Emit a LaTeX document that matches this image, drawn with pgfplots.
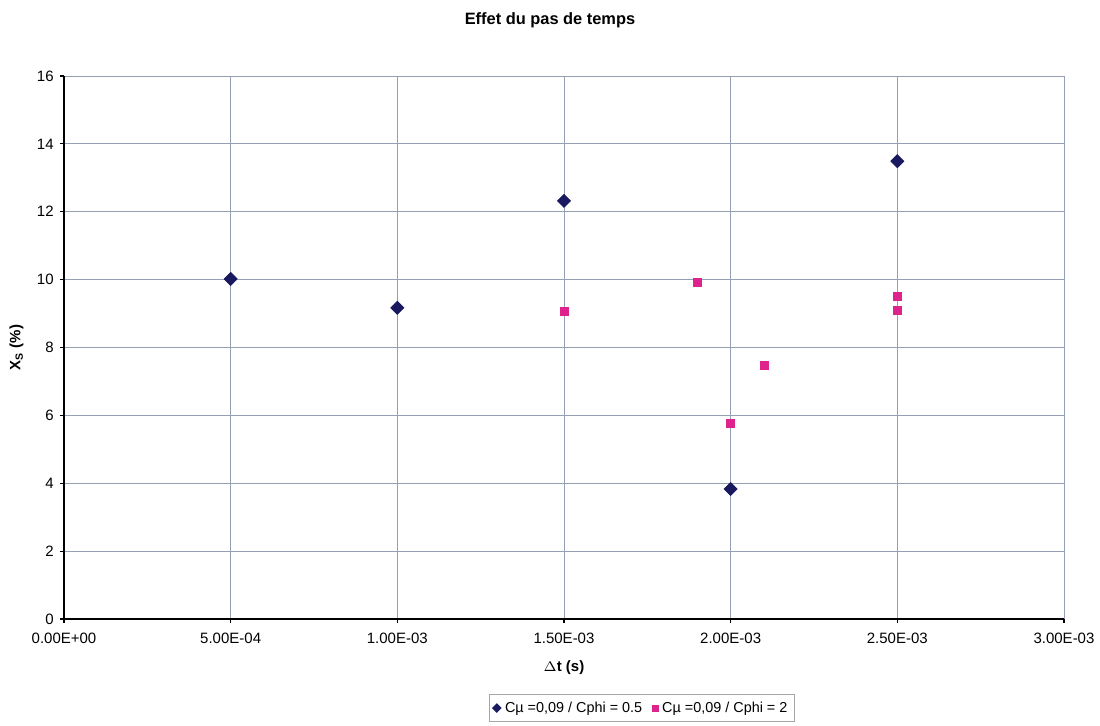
\documentclass[border=0pt]{standalone}
\usepackage{pgfplots}
\pgfplotsset{compat=1.18}
\usepackage{fontspec}
\setmainfont{Liberation Sans}
\definecolor{navyd}{RGB}{25,25,95}
\definecolor{pinkm}{RGB}{222,36,140}
\definecolor{gridc}{RGB}{150,160,180}
\begin{document}
\fontsize{7.5}{9}\selectfont
\begin{tikzpicture}
\useasboundingbox (-32pt,-53.5pt) rectangle (518pt,309.5pt);
\begin{axis}[
  at={(0,0)}, anchor=south west,
  scale only axis, width=500pt, height=271.5pt,
  xmin=0, xmax=0.003, ymin=0, ymax=16,
  axis x line*=bottom, axis y line*=left,
  axis line style={line width=1.4pt, -},
  xtick={0,0.0005,0.001,0.0015,0.002,0.0025,0.003},
  xticklabels={0.00E+00,5.00E-04,1.00E-03,1.50E-03,2.00E-03,2.50E-03,3.00E-03},
  ytick={0,2,...,16},
  scaled x ticks=false,
  /pgf/number format/assume math mode=true,
  tick align=outside, major tick length=2pt,
  tick style={black, line width=0.6pt},
  grid=major, major grid style={gridc, line width=0.4pt},
  ticklabel style={font=\fontsize{7.5}{9}\selectfont},
  xticklabel style={yshift=-2.5pt},
  yticklabel style={xshift=-0.5pt},
  xlabel={\bfseries $\Delta$t (s)},
  ylabel={\bfseries X\textsubscript{S} (\%)},
  xlabel style={font=\fontsize{7.5}{9}\selectfont, yshift=-3pt},
  ylabel style={font=\fontsize{7.5}{9}\selectfont, yshift=1.5pt},
  clip=false,
  legend style={at={(0.578,-0.164)}, anchor=center, legend columns=2,
    draw=gray!70, font=\fontsize{7.2}{8.5}\selectfont, inner sep=1.5pt,
    /tikz/every even column/.append style={column sep=3pt}},
  legend image post style={mark size=1.5pt},
  legend cell align=left,
]
\addplot[only marks, mark=square*, mark options={rotate=45}, mark size=2.3pt, color=navyd] coordinates {
  (0.0005,10.02) (0.001,9.17) (0.0015,12.32) (0.002,3.83) (0.0025,13.49)
};
\addlegendentry{C\textmu\ =0,09 / Cphi = 0.5}
\addplot[only marks, mark=square*, mark size=2pt, color=pinkm] coordinates {
  (0.0015,9.07) (0.0019,9.93) (0.002,5.77) (0.0021,7.48) (0.0025,9.52) (0.0025,9.10)
};
\addlegendentry{C\textmu\ =0,09 / Cphi = 2}
\node[font=\bfseries\fontsize{8.2}{9}\selectfont] at (rel axis cs:0.486,1.103) {Effet du pas de temps};
\end{axis}
\end{tikzpicture}
\end{document}
